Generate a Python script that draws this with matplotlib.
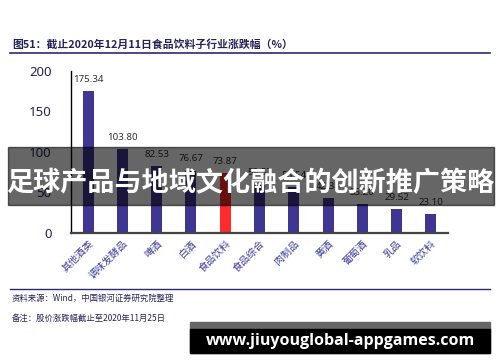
import matplotlib
matplotlib.use("Agg")
import matplotlib.pyplot as plt
from matplotlib.patches import Rectangle

plt.rcParams["font.family"] = ["Noto Sans CJK SC", "DejaVu Sans"]

categories = ["其他酒类", "调味发酵品", "啤酒", "白酒", "食品饮料", "食品综合",
              "肉制品", "黄酒", "葡萄酒", "乳品", "软饮料"]
values = [175.34, 103.80, 82.53, 76.67, 73.87, 59.57, 56.54, 42.38, 35.20, 29.52, 23.10]
highlight = "食品饮料"
yticks = [0, 50, 100, 150, 200]

title = "图51：截止2020年12月11日食品饮料子行业涨跌幅（%）"
source = "资料来源：Wind，中国银河证券研究院整理"
note = "备注：股价涨跌幅截止至2020年11月25日"
banner = "足球产品与地域文化融合的创新推广策略"
watermark = "www.jiuyouglobal-appgames.com"

BAR = "#3f3593"
RED = "#ff2a2a"
NAVY = "#23235a"

fig = plt.figure(figsize=(5, 3.62), dpi=100)
ax = fig.add_axes([0.142, 0.357, 0.754, 0.447])

colors = [RED if c == highlight else BAR for c in categories]
x = range(len(categories))
ax.bar(x, values, width=0.32, color=colors, zorder=2)
for i, v in zip(x, values):
    ax.text(i, v + 9, f"{v:.2f}", ha="center", va="bottom", fontsize=7,
            color="#333333", family=["Noto Sans", "DejaVu Sans"])

ax.set_ylim(0, 200)
ax.set_xlim(-0.5, len(categories) - 0.5)
ax.set_yticks(yticks)
ax.set_yticklabels([str(t) for t in yticks], fontsize=9.5, color=NAVY,
                   family=["Noto Sans", "DejaVu Sans"])
ax.tick_params(axis="y", length=0, pad=14)
ax.set_xticks(list(x))
ax.set_xticklabels(categories, rotation=45, ha="right", rotation_mode="anchor",
                   fontsize=7.2, color="#3a3a9a")
ax.tick_params(axis="x", length=0, pad=4)

for side in ["top", "right"]:
    ax.spines[side].set_visible(False)
ax.spines["left"].set_color("black")
ax.spines["left"].set_linewidth(1.0)
ax.spines["bottom"].set_color("#444444")
ax.spines["bottom"].set_linewidth(1.6)

# header and footer
fig.text(0.024, 1 - 44 / 362, title, fontsize=7.8, fontweight="bold",
         color=NAVY, va="center")
fig.add_artist(plt.Line2D([0.02, 0.98], [1 - 53 / 362] * 2, color="#2a2a70", lw=1.2))
fig.add_artist(plt.Line2D([0.02, 0.98], [1 - 289 / 362] * 2, color="#2a2a70", lw=1.0))
fig.text(0.024, 1 - 298 / 362, source, fontsize=6, color=NAVY, va="center")
fig.text(0.024, 1 - 318 / 362, note, fontsize=6, color=NAVY, va="center")

# overlay banner
fig.add_artist(Rectangle((0.016, 1 - 205 / 362), 0.972, 58 / 362,
                         transform=fig.transFigure, color="black", alpha=0.6,
                         zorder=10))
fig.text(0.5, 1 - 183 / 362, banner, fontsize=19.5, fontweight="bold",
         color="white", ha="center", va="center", zorder=11)

# watermark
fig.add_artist(Rectangle((0.38, 1 - 353 / 362), 0.6, 31 / 362,
                         transform=fig.transFigure, color="#666666", zorder=10))
fig.add_artist(Rectangle((0.38, 1 - 353 / 362), 0.6, 24 / 362,
                         transform=fig.transFigure, color="black", zorder=10))
fig.text(0.68, 1 - 341 / 362, watermark, fontsize=11.5, fontweight="bold",
         color="white", ha="center", va="center", zorder=11,
         family=["Open Sans", "DejaVu Sans"])

fig.savefig("out.png", dpi=100)
